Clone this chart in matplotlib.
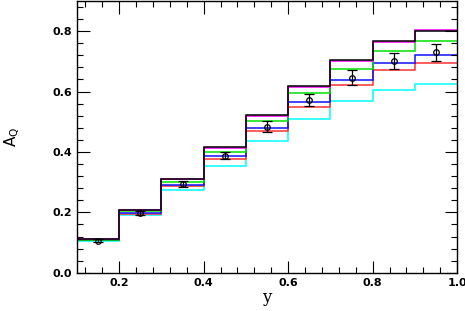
import numpy as np
import matplotlib
matplotlib.use("Agg")
import matplotlib.pyplot as plt
from matplotlib.ticker import MultipleLocator, FormatStrFormatter

# bin edges in y and predicted A_Q for each curve
edges = [0.1, 0.2, 0.3, 0.4, 0.5, 0.6, 0.7, 0.8, 0.9, 1.0]
black = [0.112, 0.209, 0.311, 0.417, 0.522, 0.618, 0.703, 0.767, 0.799]
magenta = [0.111, 0.207, 0.309, 0.414, 0.518, 0.615, 0.701, 0.765, 0.804]
green = [0.109, 0.203, 0.300, 0.400, 0.501, 0.594, 0.673, 0.733, 0.766]
blue = [0.108, 0.197, 0.292, 0.385, 0.480, 0.567, 0.639, 0.693, 0.722]
red = [0.107, 0.195, 0.287, 0.375, 0.468, 0.549, 0.620, 0.670, 0.695]
cyan = [0.105, 0.190, 0.275, 0.355, 0.437, 0.509, 0.568, 0.606, 0.624]

# measured points
data_x = [0.15, 0.25, 0.35, 0.45, 0.55, 0.65, 0.75, 0.85, 0.95]
data_y = [0.106, 0.198, 0.293, 0.388, 0.484, 0.572, 0.646, 0.701, 0.730]
data_err = [0.005, 0.007, 0.010, 0.013, 0.019, 0.019, 0.024, 0.026, 0.028]

fig = plt.figure(figsize=(4.65, 3.11), dpi=100)
ax = fig.add_axes([0.1656, 0.123, 0.8174, 0.874])

curves = [(cyan, "cyan"), (red, "#ff3030"), (blue, "#1010ff"),
          (green, "#00e000"), (magenta, "magenta"), (black, "black")]
for vals, col in curves:
    ax.stairs(vals, edges, color=col, lw=1.1, baseline=None)

ax.errorbar(data_x, data_y, yerr=data_err, fmt="o", ms=4, mfc="none",
            mec="black", mew=0.9, ecolor="black", elinewidth=0.9,
            capsize=3.5, capthick=0.9)

ax.set_xlim(0.1, 1.0)
ax.set_ylim(0.0, 0.9)
ax.xaxis.set_major_locator(MultipleLocator(0.2))
ax.xaxis.set_minor_locator(MultipleLocator(0.04))
ax.yaxis.set_major_locator(MultipleLocator(0.2))
ax.yaxis.set_minor_locator(MultipleLocator(0.04))
ax.tick_params(which="both", direction="in", top=True, right=True,
               labelsize=8, width=0.8)
ax.tick_params(which="major", length=9)
ax.tick_params(which="minor", length=4.5)
ax.xaxis.set_major_formatter(FormatStrFormatter("%.1f"))
ax.yaxis.set_major_formatter(FormatStrFormatter("%.1f"))
for lab in ax.get_xticklabels() + ax.get_yticklabels():
    lab.set_fontweight("bold")
for s in ax.spines.values():
    s.set_linewidth(1.0)

ax.set_xlabel("y", family="DejaVu Serif", fontsize=12, labelpad=1)
ax.set_ylabel(r"$\mathrm{A_Q}$", fontsize=11, labelpad=22)

fig.savefig("out.png", dpi=100)
